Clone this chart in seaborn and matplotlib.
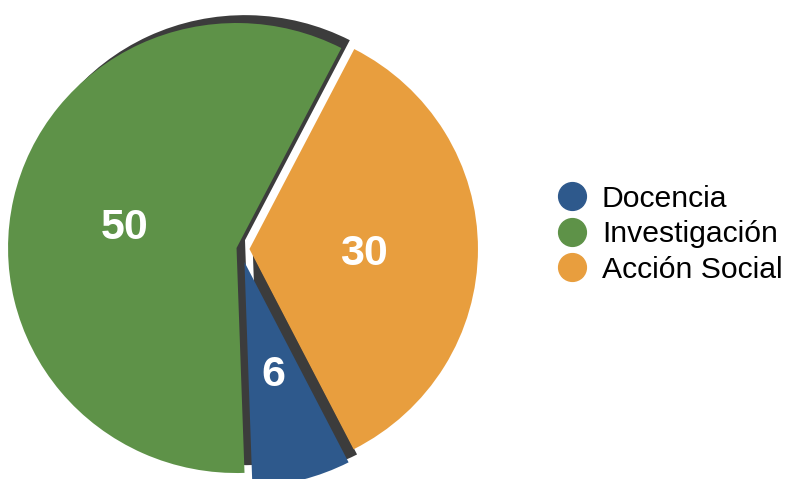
import matplotlib
matplotlib.use("Agg")
import matplotlib.pyplot as plt
import seaborn as sns
from matplotlib.lines import Line2D

sns.set_theme(style="white")
plt.rcParams['font.family'] = ['Liberation Sans', 'DejaVu Sans']

# datos (orden del pastel, antihorario desde abajo)
categorias = ["Docencia", "Acción Social", "Investigación"]
valores = [6, 30, 50]
colores = ["#2E598C", "#E89E3E", "#5E9248"]
separacion = [0.06, 0.037, 0.02]

# orden de la leyenda
orden_leyenda = ["Docencia", "Investigación", "Acción Social"]

total = sum(valores)

fig = plt.figure(figsize=(7.87, 4.79), dpi=100)
ax = fig.add_axes([0, 0, 1, 1])

# sombra (gris oscuro, desplazada arriba a la derecha)
sombra = ["#3C3C3C", "none", "#3C3C3C"]
ax.pie(valores, colors=sombra, startangle=-88, counterclock=True,
       explode=separacion, center=(0.037, 0.035), radius=1.0,
       wedgeprops=dict(linewidth=0))

wedges, textos, autotextos = ax.pie(
    valores, colors=colores, startangle=-88, counterclock=True,
    explode=separacion, radius=1.0,
    autopct=lambda p: f"{p * total / 100:.0f}", pctdistance=0.5,
    wedgeprops=dict(linewidth=0),
    textprops=dict(color="white", fontsize=31, fontweight="bold"))
for t in autotextos:
    t.set_va("center_baseline")

# el pastel original es apenas más ancho que alto
rx, ry = 228.5, 225.0
ax.set_xlim(-241 / rx, (787 - 241) / rx)
ax.set_ylim(-(479 - 249) / ry, 249 / ry)
ax.set_aspect("auto")
ax.axis("off")

handles = []
for nombre in orden_leyenda:
    c = colores[categorias.index(nombre)]
    handles.append(Line2D([0], [0], marker="o", linestyle="none",
                          markersize=20, markerfacecolor=c, markeredgecolor=c))

fig.legend(handles, orden_leyenda, loc="center left",
           bbox_to_anchor=(0.692, 0.511), frameon=False, fontsize=21.7,
           labelcolor="black", handlelength=1.0, handletextpad=0.5,
           labelspacing=0.25, borderaxespad=0)

fig.savefig("out.png", dpi=100)
